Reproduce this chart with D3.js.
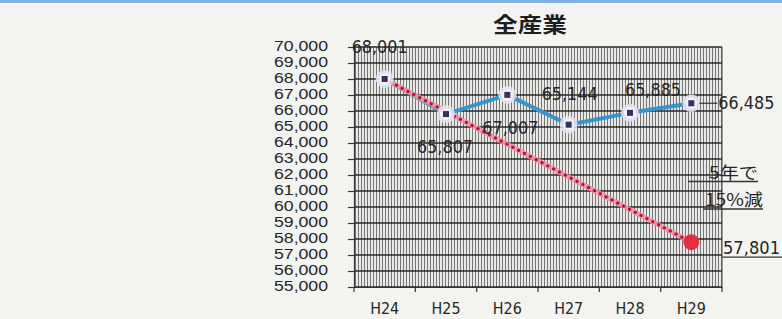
<!DOCTYPE html>
<html>
<head>
<meta charset="utf-8">
<script src="https://cdn.jsdelivr.net/npm/d3@7"></script>
<style>
  html, body { margin: 0; padding: 0; background: #f3f3f0; }
  svg { display: block; }
</style>
</head>
<body>
<svg id="chart" width="782" height="319"></svg>
<script>
// ---- data ----
const title = "全産業";
const categories = ["H24", "H25", "H26", "H27", "H28", "H29"];
const values = [68001, 65807, 67007, 65144, 65885, 66485];
const targetCategories = ["H24", "H29"];
const targetValues = [68001, 57801];
const yTicks = [55000, 56000, 57000, 58000, 59000, 60000, 61000, 62000, 63000, 64000, 65000, 66000, 67000, 68000, 69000, 70000];
const annotationLines = ["5年で", "15%減"];

// ---- layout ----
const svg = d3.select("#chart");
const W = 782, H = 319;
const pL = 354, pR = 722, pT = 47, pB = 287;
const fmt = d3.format(",");
const numFont = "'DejaVu Sans', sans-serif";
const axisFont = "'Liberation Sans', Arial, sans-serif";
const jpFont = "'Noto Sans CJK JP', sans-serif";
const ink = "#262626";

const x = d3.scaleBand().domain(categories).range([pL, pR]).padding(0);
const y = d3.scaleLinear().domain([55000, 70000]).range([pB, pT]);
const cx = c => x(c) + x.bandwidth() / 2;

// page background + top blue strip
svg.append("rect").attr("width", W).attr("height", H).attr("fill", "#f3f3f0");
svg.append("rect").attr("width", W).attr("height", 3).attr("fill", "#7fb2dc");

// hatch pattern for the plot area
const defs = svg.append("defs");
const pat = defs.append("pattern").attr("id", "hatch").attr("patternUnits", "userSpaceOnUse")
  .attr("width", 3).attr("height", 8);
pat.append("rect").attr("width", 3).attr("height", 8).attr("fill", "#e9e9e7");
pat.append("rect").attr("x", 1).attr("width", 1).attr("height", 8).attr("fill", "#767676");

svg.append("rect").attr("x", pL).attr("y", pT).attr("width", pR - pL).attr("height", pB - pT)
  .attr("fill", "url(#hatch)");

// horizontal gridlines
svg.append("g").selectAll("line").data(yTicks).join("line")
  .attr("x1", pL).attr("x2", pR)
  .attr("y1", d => y(d)).attr("y2", d => y(d))
  .attr("stroke", "#2a2a2a").attr("stroke-width", 1.5);

// right border
svg.append("line").attr("x1", pR).attr("x2", pR).attr("y1", pT).attr("y2", pB)
  .attr("stroke", "#444").attr("stroke-width", 1);

// y axis
const yAxis = d3.axisLeft(y).tickValues(yTicks).tickFormat(fmt).tickSize(6).tickPadding(20);
const gy = svg.append("g").attr("transform", `translate(${pL},0)`).call(yAxis);
gy.select(".domain").attr("stroke", "#333").attr("stroke-width", 1.2);
gy.selectAll(".tick line").attr("stroke", "#333").attr("stroke-width", 1.2);
gy.selectAll(".tick text").attr("font-family", axisFont).attr("font-size", 14)
  .attr("fill", ink).attr("dy", "0.22em")
  .attr("textLength", 54).attr("lengthAdjust", "spacingAndGlyphs");

// x axis
const xAxis = d3.axisBottom(x).tickSize(0).tickPadding(16);
const gx = svg.append("g").attr("transform", `translate(0,${pB})`).call(xAxis);
gx.select(".domain").attr("stroke", "#333").attr("stroke-width", 1.2);
gx.selectAll(".tick text").attr("font-family", numFont).attr("font-size", 15).attr("fill", ink)
  .attr("textLength", 29).attr("lengthAdjust", "spacingAndGlyphs");
// category boundary ticks
const edges = categories.map(c => x(c)).concat([pR]);
svg.append("g").selectAll("line").data(edges).join("line")
  .attr("x1", d => d).attr("x2", d => d).attr("y1", pB).attr("y2", pB + 5)
  .attr("stroke", "#333").attr("stroke-width", 1.2);

// title
svg.append("text").attr("x", 530).attr("y", 32).attr("text-anchor", "middle")
  .attr("font-family", jpFont).attr("font-weight", "bold").attr("font-size", 21)
  .attr("textLength", 74).attr("lengthAdjust", "spacingAndGlyphs")
  .attr("fill", "#1e1e1e").text(title);

// blue series line
const line = d3.line().x((d, i) => cx(categories[i])).y(d => y(d));
svg.append("path").datum(values).attr("d", line)
  .attr("fill", "none").attr("stroke", "#3795cd").attr("stroke-width", 4).attr("stroke-linejoin", "round");

// target (red dotted) line
const tline = d3.line().x((d, i) => cx(targetCategories[i])).y(d => y(d));
svg.append("path").datum(targetValues).attr("d", tline)
  .attr("fill", "none").attr("stroke", "#f092a8").attr("stroke-width", 5).attr("opacity", 0.9);
svg.append("path").datum(targetValues).attr("d", tline)
  .attr("fill", "none").attr("stroke", "#b5122f").attr("stroke-width", 3.2)
  .attr("stroke-linecap", "round").attr("stroke-dasharray", "0.1,6.5");

// blue markers
const mk = svg.append("g").selectAll("g").data(values).join("g")
  .attr("transform", (d, i) => `translate(${cx(categories[i])},${y(d)})`);
mk.append("circle").attr("r", 9).attr("fill", "#e6e4f0").attr("opacity", 0.85);
mk.append("circle").attr("r", 6).attr("fill", "#f4f2fa").attr("opacity", 0.9);
mk.append("rect").attr("x", -3).attr("y", -3).attr("width", 6).attr("height", 6).attr("fill", "#30345a");

// red end marker
svg.append("circle").attr("cx", cx(targetCategories[1])).attr("cy", y(targetValues[1]))
  .attr("r", 8).attr("fill", "#e22e40");

// data labels (offsets relative to each point)
const labelOffsets = [[-5, -26], [-1, 39], [3, 39], [1, -25], [23, -17], [27, 6]];
const anchors = ["middle", "middle", "middle", "middle", "middle", "start"];
svg.append("g").selectAll("text").data(values).join("text")
  .attr("x", (d, i) => cx(categories[i]) + labelOffsets[i][0])
  .attr("y", (d, i) => y(d) + labelOffsets[i][1])
  .attr("text-anchor", (d, i) => anchors[i])
  .attr("font-family", numFont).attr("font-size", 17).attr("fill", ink)
  .attr("textLength", 56).attr("lengthAdjust", "spacingAndGlyphs")
  .text(d => fmt(d));
// leader for the last label
const lastX = cx(categories[5]), lastY = y(values[5]);
svg.append("line").attr("x1", lastX + 8).attr("x2", lastX + 26).attr("y1", lastY).attr("y2", lastY)
  .attr("stroke", "#333").attr("stroke-width", 1.2);

// target label
const tY = y(targetValues[1]);
svg.append("text").attr("x", 723).attr("y", tY + 12)
  .attr("font-family", numFont).attr("font-size", 17).attr("fill", ink)
  .attr("textLength", 57).attr("lengthAdjust", "spacingAndGlyphs")
  .text(fmt(targetValues[1]));
svg.append("line").attr("x1", 722).attr("x2", 782).attr("y1", tY + 15).attr("y2", tY + 15)
  .attr("stroke", "#333").attr("stroke-width", 1.3);

// annotation
const annY = [179, 206];
const annTextX = [709, 705];
const annTextLen = [49, 58];
const annLine = [[688, 758, 181.5], [703, 763, 209]];
svg.append("g").selectAll("text").data(annotationLines).join("text")
  .attr("x", (d, i) => annTextX[i]).attr("y", (d, i) => annY[i])
  .attr("font-family", jpFont).attr("font-size", 17).attr("fill", ink)
  .attr("textLength", (d, i) => annTextLen[i]).attr("lengthAdjust", "spacingAndGlyphs")
  .text(d => d);
svg.append("g").selectAll("line").data(annotationLines).join("line")
  .attr("x1", (d, i) => annLine[i][0]).attr("x2", (d, i) => annLine[i][1])
  .attr("y1", (d, i) => annLine[i][2]).attr("y2", (d, i) => annLine[i][2])
  .attr("stroke", "#333").attr("stroke-width", 1.3);
</script>
</body>
</html>
